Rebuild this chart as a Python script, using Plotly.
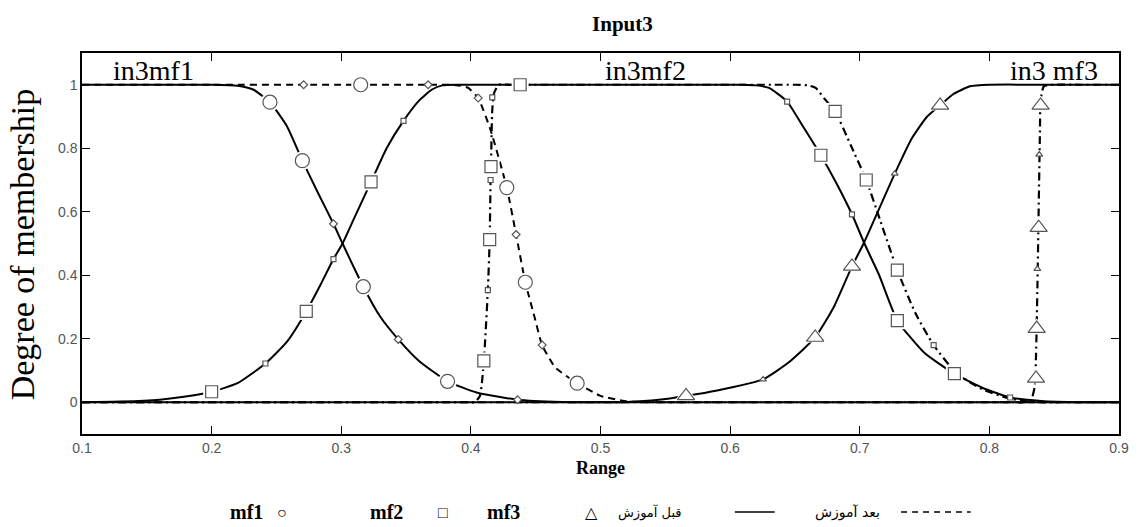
import plotly.graph_objects as go

# ---------------- data ----------------
# mf1 before training (solid)
mf1_b_x = [0.10, 0.20, 0.22, 0.232, 0.245, 0.258, 0.270, 0.282, 0.294, 0.301, 0.317, 0.330, 0.344, 0.360,
           0.382, 0.405, 0.436, 0.47, 0.50, 0.60, 0.90]
mf1_b_y = [1, 1, 0.997, 0.985, 0.945, 0.87, 0.761, 0.66, 0.562, 0.50, 0.364, 0.27, 0.198, 0.13,
           0.066, 0.03, 0.008, 0.001, 0, 0, 0]
# mf2 before training (solid)
mf2_b_x = [0.10, 0.13, 0.16, 0.18, 0.200, 0.220, 0.2415, 0.258, 0.273, 0.284, 0.294, 0.301, 0.310, 0.323,
           0.335, 0.348, 0.360, 0.370, 0.378, 0.39, 0.50, 0.61, 0.62, 0.630, 0.644, 0.656, 0.670, 0.682,
           0.694, 0.7036, 0.715, 0.729, 0.750, 0.773, 0.795, 0.816, 0.840, 0.87, 0.90]
mf2_b_y = [0, 0.002, 0.008, 0.018, 0.033, 0.06, 0.122, 0.19, 0.286, 0.37, 0.451, 0.50, 0.58, 0.694,
           0.80, 0.886, 0.95, 0.985, 0.998, 1, 1, 1, 0.998, 0.99, 0.947, 0.87, 0.778, 0.69,
           0.592, 0.50, 0.40, 0.257, 0.155, 0.09, 0.045, 0.015, 0.004, 0.0, 0]
# mf3 before training (solid)
mf3_b_x = [0.10, 0.30, 0.48, 0.50, 0.52, 0.545, 0.566, 0.59, 0.6254, 0.645, 0.6656, 0.680, 0.694, 0.703,
           0.715, 0.727, 0.740, 0.752, 0.762, 0.772, 0.785, 0.80, 0.85, 0.90]
mf3_b_y = [0, 0, 0, 0, 0.001, 0.008, 0.02, 0.037, 0.072, 0.125, 0.204, 0.30, 0.428, 0.50,
           0.61, 0.72, 0.83, 0.90, 0.935, 0.97, 0.995, 1, 1, 1]
# mf1 after training (dashed)
mf1_a_x = [0.10, 0.20, 0.30, 0.37, 0.385, 0.392, 0.398, 0.4056, 0.415, 0.4277, 0.4349, 0.442, 0.449, 0.455,
           0.465, 0.482, 0.50, 0.52, 0.54, 0.60, 0.90]
mf1_a_y = [1, 1, 1, 1, 1, 0.997, 0.99, 0.958, 0.86, 0.676, 0.528, 0.378, 0.27, 0.18,
           0.11, 0.06, 0.02, 0.003, 0, 0, 0]
# mf2 after training (dash-dot)
mf2_a_x = [0.10, 0.30, 0.39, 0.398, 0.403, 0.407, 0.410, 0.4131, 0.4145, 0.4152, 0.4155, 0.4165, 0.418,
           0.4215, 0.43, 0.44, 0.55, 0.64, 0.65, 0.66, 0.666, 0.673, 0.681, 0.693, 0.705, 0.716, 0.729,
           0.743, 0.757, 0.775, 0.795, 0.815, 0.83, 0.84, 0.86, 0.90]
mf2_a_y = [0, 0, 0, 0, 0, 0.02, 0.13, 0.353, 0.512, 0.70, 0.742, 0.92, 0.975,
           1, 1, 1, 1, 1, 1, 0.998, 0.99, 0.955, 0.916, 0.81, 0.70, 0.57, 0.416,
           0.28, 0.18, 0.09, 0.04, 0.012, 0.002, 0, 0, 0]
# mf3 after training (dash-dot)
mf3_a_x = [0.10, 0.40, 0.70, 0.80, 0.82, 0.827, 0.832, 0.835, 0.836, 0.837, 0.838, 0.839, 0.8395, 0.842,
           0.85, 0.87, 0.90]
mf3_a_y = [0, 0, 0, 0, 0, 0, 0.005, 0.05, 0.15, 0.35, 0.6, 0.85, 0.95, 0.995,
           1, 1, 1]

# markers: big and small, per series and state
mf1_b_big_x = [0.245, 0.270, 0.317, 0.382]
mf1_b_big_y = [0.945, 0.761, 0.364, 0.066]
mf1_b_small_x = [0.294, 0.344, 0.436]
mf1_b_small_y = [0.562, 0.198, 0.008]
mf1_a_big_x = [0.315, 0.4277, 0.442, 0.482]
mf1_a_big_y = [1.0, 0.676, 0.378, 0.06]
mf1_a_small_x = [0.271, 0.367, 0.4056, 0.4349, 0.455]
mf1_a_small_y = [1.0, 1.0, 0.958, 0.528, 0.18]

mf2_b_big_x = [0.200, 0.273, 0.323, 0.670, 0.729, 0.773]
mf2_b_big_y = [0.033, 0.286, 0.694, 0.778, 0.257, 0.09]
mf2_b_small_x = [0.2415, 0.294, 0.348, 0.644, 0.694, 0.816]
mf2_b_small_y = [0.122, 0.451, 0.886, 0.947, 0.592, 0.015]
mf2_a_big_x = [0.410, 0.4145, 0.4155, 0.438, 0.681, 0.705, 0.729]
mf2_a_big_y = [0.13, 0.512, 0.742, 1.0, 0.916, 0.70, 0.416]
mf2_a_small_x = [0.4131, 0.4152, 0.4165, 0.757]
mf2_a_small_y = [0.353, 0.70, 0.96, 0.18]

mf3_b_big_x = [0.566, 0.6656, 0.694, 0.762]
mf3_b_big_y = [0.02, 0.204, 0.428, 0.935]
mf3_b_small_x = [0.6254, 0.727]
mf3_b_small_y = [0.072, 0.72]
mf3_a_big_x = [0.836, 0.8365, 0.838, 0.8395]
mf3_a_big_y = [0.075, 0.232, 0.55, 0.935]
mf3_a_small_x = [0.837, 0.8385]
mf3_a_small_y = [0.42, 0.78]

x_ticks = [0.1, 0.2, 0.3, 0.4, 0.5, 0.6, 0.7, 0.8, 0.9]
x_tick_text = ["0.1", "0.2", "0.3", "0.4", "0.5", "0.6", "0.7", "0.8", "0.9"]
y_ticks = [0, 0.2, 0.4, 0.6, 0.8, 1]
y_tick_text = ["0", "0.2", "0.4", "0.6", "0.8", "1"]

mf_labels = ["in3mf1", "in3mf2", "in3 mf3"]
mf_label_x = [0.155, 0.535, 0.85]
mf_label_y = [1.045, 1.045, 1.045]

# ---------------- figure ----------------
W, H = 1141, 527
L, R, T, B = 82, 17, 53, 93
PW, PH = W - L - R, H - T - B


def px2paper_x(px):
    return (px - L) / PW


def px2paper_y(py):
    return (H - B - py) / PH


fig = go.Figure()

DASH = "7px,5px"
DASHDOT = "8px,4px,2px,4px"


def add_line(x, y, dash, width=2.0):
    fig.add_trace(go.Scatter(x=x, y=y, mode="lines",
                             line=dict(color="black", width=width, dash=dash, shape="spline", smoothing=0.5),
                             hoverinfo="skip", showlegend=False))


add_line(mf1_b_x, mf1_b_y, "solid")
add_line(mf2_b_x, mf2_b_y, "solid")
add_line(mf3_b_x, mf3_b_y, "solid")
add_line(mf1_a_x, mf1_a_y, DASH)
add_line(mf2_a_x, mf2_a_y, DASHDOT, 2.2)
add_line(mf3_a_x, mf3_a_y, DASHDOT, 2.2)


def add_markers(x, y, symbol, size, halo=True):
    if halo:
        fig.add_trace(go.Scatter(x=x, y=y, mode="markers",
                                 marker=dict(symbol=symbol, size=size + 5, color="white",
                                             line=dict(width=0)),
                                 hoverinfo="skip", showlegend=False))
    fig.add_trace(go.Scatter(x=x, y=y, mode="markers",
                             marker=dict(symbol=symbol, size=size, color="white",
                                         line=dict(color="#555555", width=1.2)),
                             hoverinfo="skip", showlegend=False))


add_markers(mf1_b_big_x, mf1_b_big_y, "circle", 14)
add_markers(mf1_a_big_x, mf1_a_big_y, "circle", 14)
add_markers(mf1_b_small_x, mf1_b_small_y, "diamond", 6, False)
add_markers(mf1_a_small_x, mf1_a_small_y, "diamond", 6, False)
add_markers(mf2_b_big_x, mf2_b_big_y, "square", 12)
add_markers(mf2_a_big_x, mf2_a_big_y, "square", 12)
add_markers(mf2_b_small_x, mf2_b_small_y, "square", 5, False)
add_markers(mf2_a_small_x, mf2_a_small_y, "square", 5, False)
add_markers(mf3_b_big_x, mf3_b_big_y, "triangle-up", 15)
add_markers(mf3_a_big_x, mf3_a_big_y, "triangle-up", 15)
add_markers(mf3_b_small_x, mf3_b_small_y, "triangle-up", 6, False)
add_markers(mf3_a_small_x, mf3_a_small_y, "triangle-up", 6, False)

SERIF = "Liberation Serif, Times New Roman, serif"
SANS = "Liberation Sans, Arial, DejaVu Sans, sans-serif"

annotations = []
for t, xx, yy in zip(mf_labels, mf_label_x, mf_label_y):
    annotations.append(dict(x=xx, y=yy, xref="x", yref="y", text=t, showarrow=False,
                            xanchor="center", yanchor="middle",
                            font=dict(family=SERIF, size=28, color="black")))

# axis titles
annotations.append(dict(x=0.5, y=px2paper_y(468), xref="paper", yref="paper", text="<b>Range</b>",
                        showarrow=False, xanchor="center", yanchor="middle",
                        font=dict(family=SERIF, size=18, color="black")))
annotations.append(dict(x=px2paper_x(23), y=px2paper_y(244), xref="paper", yref="paper",
                        text="Degree of membership", textangle=-90, showarrow=False,
                        xanchor="center", yanchor="middle",
                        font=dict(family=SERIF, size=34, color="black")))

# bottom legend
leg_y = px2paper_y(512)
leg_items = [
    ("<b>mf1</b>", 247, SERIF, 20),
    ("○", 283, SANS, 16),
    ("<b>mf2</b>", 388, SERIF, 20),
    ("□", 445, SANS, 16),
    ("<b>mf3</b>", 506, SERIF, 20),
    ("△", 594, SANS, 16),
    ("قبل آموزش", 653, "DejaVu Sans, sans-serif", 13),
    ("بعد آموزش", 851, "DejaVu Sans, sans-serif", 14),
]
for t, px, fam, sz in leg_items:
    annotations.append(dict(x=px2paper_x(px), y=leg_y, xref="paper", yref="paper", text=t,
                            showarrow=False, xanchor="center", yanchor="middle",
                            font=dict(family=fam, size=sz, color="black")))

shapes = [
    dict(type="line", xref="paper", yref="paper", x0=px2paper_x(738), x1=px2paper_x(778),
         y0=leg_y, y1=leg_y, line=dict(color="black", width=1.5)),
    dict(type="line", xref="paper", yref="paper", x0=px2paper_x(905), x1=px2paper_x(975),
         y0=leg_y, y1=leg_y, line=dict(color="black", width=1.5, dash="6px,5px")),
]

fig.update_layout(
    width=W, height=H,
    margin=dict(l=L, r=R, t=T, b=B),
    paper_bgcolor="white", plot_bgcolor="white",
    title=dict(text="<b>Input3</b>", x=px2paper_x(625), xref="paper", y=1 - 24 / H, yanchor="middle",
               xanchor="center", font=dict(family=SERIF, size=21, color="black")),
    annotations=annotations,
    shapes=shapes,
    showlegend=False,
    xaxis=dict(range=[0.1, 0.9], tickvals=x_ticks, ticktext=x_tick_text, ticks="inside", ticklen=8,
               tickcolor="black", showline=True, linecolor="black", linewidth=1.5, mirror="ticks",
               showgrid=False, zeroline=False,
               tickfont=dict(family=SANS, size=14, color="#555555")),
    yaxis=dict(range=[-0.1, 1.1], tickvals=y_ticks, ticktext=y_tick_text, ticks="inside", ticklen=8,
               tickcolor="black", showline=True, linecolor="black", linewidth=1.5, mirror="ticks",
               showgrid=False, zeroline=False,
               tickfont=dict(family=SANS, size=14, color="#555555")),
)

fig.write_html("out.html", config={"displayModeBar": False},
               post_script="document.body.style.margin='0';document.body.style.overflow='hidden';")
